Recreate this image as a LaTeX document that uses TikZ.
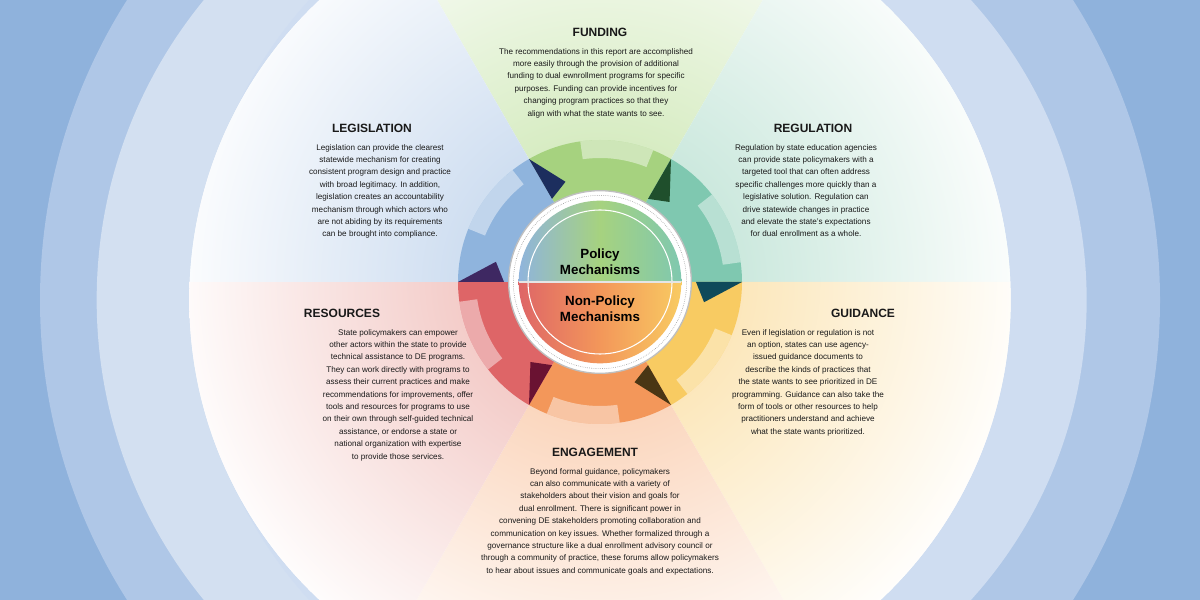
\documentclass[tikz,border=0pt]{standalone}
\usepackage{fontspec}
\setmainfont{Liberation Sans}
\usetikzlibrary{calc}
\begin{document}
\begin{tikzpicture}[x=0.75pt,y=0.75pt,
  head/.style={font=\fontsize{9}{10}\selectfont\bfseries, text=black!90},
  body/.style={font=\fontsize{6.1}{9.3}\selectfont, align=center, text=black!90, inner sep=0pt}]
\definecolor{bgA}{HTML}{8FB2DC}\definecolor{bgB}{HTML}{AFC7E7}\definecolor{bgC}{HTML}{D3E0F1}
\definecolor{cFun}{HTML}{A6D27F}\definecolor{cReg}{HTML}{7FC8B0}\definecolor{cGui}{HTML}{F8CB62}
\definecolor{cEng}{HTML}{F3975A}\definecolor{cRes}{HTML}{DE6567}\definecolor{cLeg}{HTML}{8FB4DD}
\definecolor{sFun}{HTML}{C4E3A6}\definecolor{sReg}{HTML}{B4DECE}\definecolor{sGui}{HTML}{FADC9C}
\definecolor{sEng}{HTML}{F9C4A0}\definecolor{sRes}{HTML}{EEB5B0}\definecolor{sLeg}{HTML}{B9CFEA}
\useasboundingbox (0,0) rectangle (1200,600);
\fill[bgA] (0,0) rectangle (1200,600);
\begin{scope}
\clip (0,0) rectangle (1200,600);
\fill[bgB] (600,300) circle (420pt);
\fill[bgC] (570,300) circle (355pt);
\fill[bgB!60!white] (640,300) circle (335pt);
\fill[white] (600,300) circle (308pt);
\end{scope}
\coordinate (C) at (600,318);
% sectors
\foreach \a/\c in {60/sFun,0/sReg,-60/sGui,-120/sEng,180/sRes,120/sLeg}{
  \begin{scope}
    \clip (600,300) circle (308pt);
    \clip (C) -- ++(\a:600) arc (\a:\a+60:600) -- cycle;
    \shade[inner color=\c, outer color=white] (C) circle (330pt);
  \end{scope}}
% ring segments
\foreach \a/\c in {60/cFun,0/cReg,-60/cGui,-120/cEng,180/cRes,120/cLeg}{
  \fill[\c] (C) ++(\a:88) arc (\a:\a+60:88) -- ++(\a+60:54) arc (\a+60:\a:142) -- cycle;
  \fill[white,opacity=0.45] (C) ++(\a+8:124) arc (\a+8:\a+38:124) -- ++(\a+38:18) arc (\a+38:\a+8:142) -- cycle;
}
% dark pinwheel triangles
\foreach \a/\c in {120/1C2E5E,60/1F4F2C,0/0F4A5A,-60/4A3614,-120/6A1232,180/3E2862}{
  \definecolor{tmp}{HTML}{\c}
  \fill[tmp] ($(C)+(\a:142)$) -- ($(C)+(\a:96)$) -- ($(C)+(\a-11:106)$) -- cycle;
}
% center
\node[circle, minimum size=137pt, inner sep=0pt, fill=white, draw=black!25, line width=1pt] (ctr) at (C) {};
\draw[black!50, densely dotted] (C) circle (65pt);
\begin{scope}
\clip (C) circle (61pt);
\shade[left color=cLeg, right color=cReg, middle color=cFun] ($(C)+(-82,0)$) rectangle ($(C)+(82,82)$);
\shade[left color=cRes, right color=cGui, middle color=cEng] ($(C)+(-82,-82)$) rectangle ($(C)+(82,0)$);
\end{scope}
\draw[white, line width=0.8pt] (C) circle (54pt);
\draw[white!80!gray, line width=1pt] ($(C)+(-81,0)$) -- ($(C)+(81,0)$);
\node[font=\fontsize{10}{12}\selectfont\bfseries, align=center] (pol) at ($(C)+(0,20)$) {Policy\\Mechanisms};
\node[font=\fontsize{10}{12}\selectfont\bfseries, align=center] (npol) at ($(C)+(0,-27)$) {Non-Policy\\Mechanisms};
% texts
\node[head] (hf) at (600,568) {FUNDING};
\node[body, anchor=north] (tf) at (596,552) {The recommendations in this report are accomplished\\more easily through the provision of additional\\funding to dual ewnrollment programs for specific\\purposes. Funding can provide incentives for\\changing program practices so that they\\align with what the state wants to see.};
\node[head] (hl) at (372,472) {LEGISLATION};
\node[body, anchor=north] (tl) at (380,456) {Legislation can provide the clearest\\statewide mechanism for creating\\consistent program design and practice\\with broad legitimacy. In addition,\\legislation creates an accountability\\mechanism through which actors who\\are not abiding by its requirements\\can be brought into compliance.};
\node[head] (hr) at (813,472) {REGULATION};
\node[body, anchor=north] (tr) at (806,456) {Regulation by state education agencies\\can provide state policymakers with a\\targeted tool that can often address\\specific challenges more quickly than a\\legislative solution. Regulation can\\drive statewide changes in practice\\and elevate the state's expectations\\for dual enrollment as a whole.};
\node[head] (hrs) at (342,287) {RESOURCES};
\node[body, anchor=north] (trs) at (398,271) {State policymakers can empower\\other actors within the state to provide\\technical assistance to DE programs.\\They can work directly with programs to\\assess their current practices and make\\recommendations for improvements, offer\\tools and resources for programs to use\\on their own through self-guided technical\\assistance, or endorse a state or\\national organization with expertise\\to provide those services.};
\node[head] (hg) at (863,287) {GUIDANCE};
\node[body, anchor=north] (tg) at (808,271) {Even if legislation or regulation is not\\an option, states can use agency-\\issued guidance documents to\\describe the kinds of practices that\\the state wants to see prioritized in DE\\programming. Guidance can also take the\\form of tools or other resources to help\\practitioners understand and achieve\\what the state wants prioritized.};
\node[head] (he) at (595,148) {ENGAGEMENT};
\node[body, anchor=north] (te) at (600,132) {Beyond formal guidance, policymakers\\can also communicate with a variety of\\stakeholders about their vision and goals for\\dual enrollment. There is significant power in\\convening DE stakeholders promoting collaboration and\\communication on key issues. Whether formalized through a\\governance structure like a dual enrollment advisory council or\\through a community of practice, these forums allow policymakers\\to hear about issues and communicate goals and expectations.};
\end{tikzpicture}
\end{document}
